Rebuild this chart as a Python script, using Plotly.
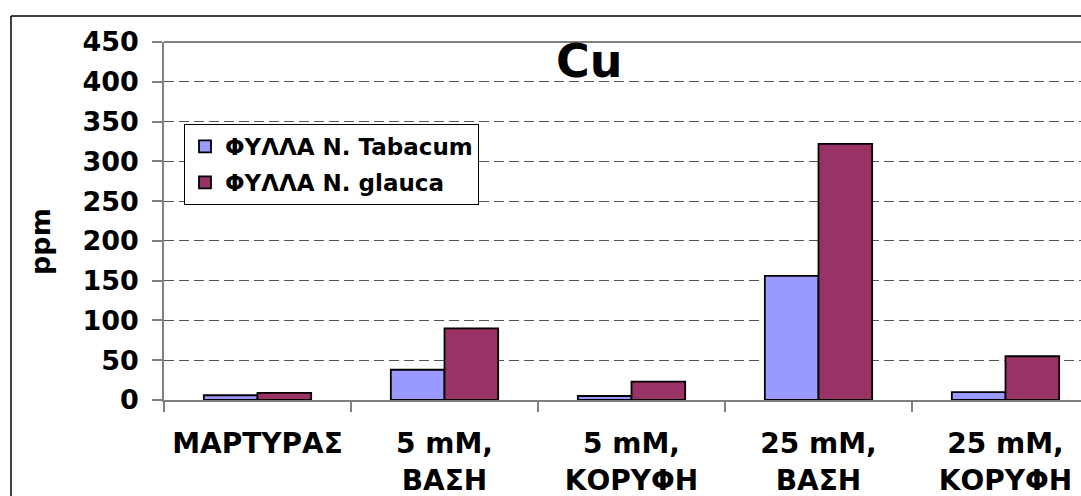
import plotly.graph_objects as go

# Cu content (ppm) in leaves of two Nicotiana species
categories = ["ΜΑΡΤΥΡΑΣ", "5 mM,<br>ΒΑΣΗ", "5 mM,<br>ΚΟΡΥΦΗ", "25 mM,<br>ΒΑΣΗ", "25 mM,<br>ΚΟΡΥΦΗ"]
tabacum = [6, 38, 5, 156, 10]
glauca = [9, 90, 23, 322, 55]
series_names = ["ΦΥΛΛΑ N. Tabacum", "ΦΥΛΛΑ N. glauca"]
y_ticks = [0, 50, 100, 150, 200, 250, 300, 350, 400, 450]

W, H = 1081, 496
L, T, B = 164, 42, 96
plot_w = W - L
plot_h = H - T - B
cat_px = 187  # pixel width of one category slot

FONT = "DejaVu Sans"


def px_x(p):
    return (p - L) / plot_w


def px_y(p):
    return (H - B - p) / plot_h


fig = go.Figure()
fig.add_trace(go.Bar(
    x=categories, y=tabacum, name=series_names[0],
    marker=dict(color="#9999FF", line=dict(color="black", width=1.8)),
    legendgroup="a",
))
fig.add_trace(go.Bar(
    x=categories, y=glauca, name=series_names[1],
    marker=dict(color="#993366", line=dict(color="black", width=1.8)),
    legendgroup="b",
))

fig.update_layout(
    width=W, height=H,
    margin=dict(l=L, r=0, t=T, b=B, pad=0),
    paper_bgcolor="white", plot_bgcolor="white",
    barmode="group", bargap=0.426, bargroupgap=0,
    font=dict(family=FONT, color="black", weight="bold"),
    showlegend=True,
    legend=dict(
        x=px_x(184), y=px_y(124), xanchor="left", yanchor="top",
        bgcolor="white", bordercolor="black", borderwidth=1,
        font=dict(family=FONT, size=23, weight="bold", color="black"),
        tracegroupgap=3, traceorder="grouped",
    ),
)

fig.update_xaxes(
    type="category", range=[-0.5, -0.5 + plot_w / cat_px],
    showline=True, linecolor="#808080", linewidth=1.5,
    ticks="outside", ticklen=10, tickcolor="#808080", tickwidth=1.5,
    tickson="boundaries", showgrid=False,
    tickfont=dict(family=FONT, size=28, weight="bold", color="black"),
    ticklabelstandoff=18,
)
fig.update_yaxes(
    range=[0, 450], tickvals=y_ticks,
    showline=True, linecolor="#808080", linewidth=1.5,
    ticks="outside", ticklen=10, tickcolor="#808080", tickwidth=1.5,
    showgrid=True, gridcolor="#555555", gridwidth=1, griddash="10px,5px",
    zeroline=False,
    tickfont=dict(family=FONT, size=27, weight="bold", color="black"),
    ticklabelstandoff=8,
)

# top edge of the plot area and outer chart frame
fig.add_shape(type="line", xref="paper", yref="paper", x0=0, x1=1, y0=1, y1=1,
              line=dict(color="#808080", width=2))
fig.add_shape(type="line", xref="paper", yref="paper",
              x0=px_x(11), x1=px_x(11), y0=px_y(16), y1=px_y(H + 5),
              line=dict(color="black", width=1.5))
fig.add_shape(type="line", xref="paper", yref="paper",
              x0=px_x(11), x1=px_x(W + 5), y0=px_y(16), y1=px_y(16),
              line=dict(color="black", width=1.5))

fig.add_annotation(text="Cu", xref="paper", yref="paper", x=px_x(589), y=px_y(61),
                   showarrow=False, xanchor="center", yanchor="middle",
                   font=dict(family=FONT, size=46, weight="bold", color="black"))
fig.add_annotation(text="ppm", xref="paper", yref="paper", x=px_x(40), y=px_y(242),
                   showarrow=False, textangle=-90, xanchor="center", yanchor="middle",
                   font=dict(family=FONT, size=27, weight="bold", color="black"))

fig.write_html("out.html")
